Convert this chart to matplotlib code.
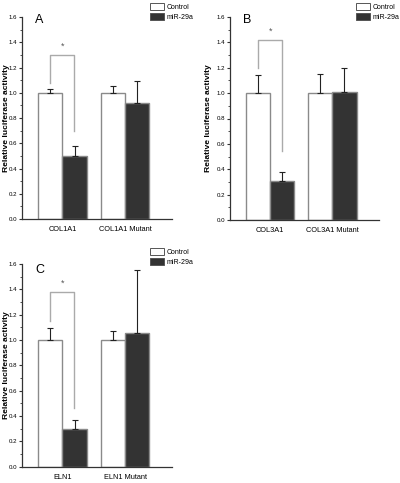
import matplotlib
matplotlib.use("Agg")
import matplotlib.pyplot as plt
from matplotlib.patches import Patch
from matplotlib.ticker import MultipleLocator

plt.rcParams['font.family'] = ['Liberation Sans', 'DejaVu Sans']

series = ["Control", "miR-29a"]
panel_letters = ["A", "B", "C"]
categories = [["COL1A1", "COL1A1 Mutant"],
              ["COL3A1", "COL3A1 Mutant"],
              ["ELN1", "ELN1 Mutant"]]
control_vals = [[1.0, 1.0], [1.0, 1.0], [1.0, 1.0]]
control_err = [[0.03, 0.055], [0.14, 0.15], [0.095, 0.07]]
mir_vals = [[0.50, 0.915], [0.31, 1.01], [0.295, 1.055]]
mir_err = [[0.08, 0.18], [0.07, 0.19], [0.07, 0.50]]
# bracket: left start, top, right end, star height
brackets = [[1.08, 1.30, 0.70, 1.37],
            [1.20, 1.42, 0.54, 1.49],
            [1.15, 1.38, 0.46, 1.45]]

fig = plt.figure(figsize=(4, 4.83), dpi=100)
axes_rects = [
    [22/400, 1-219/483, 150/400, 202/483],
    [230/400, 1-220/483, 149/400, 203/483],
    [22/400, 1-466.7/483, 150/400, 202.7/483],
]
ylabel_x = [-0.08, -0.12, -0.08]
legend_pos = [(149/400, 1-2/483), (355/400, 1-2/483), (149/400, 1-247/483)]
letter_pos = [(35/400, 1-20/483), (243/400, 1-20/483), (35/400, 1-270/483)]

w = 0.39
off = 0.195
edge = '#8a8a8a'
dark = '#333333'

for i in range(3):
    ax = fig.add_axes(axes_rects[i])
    xs = [0, 1]
    ax.bar([x - off for x in xs], control_vals[i], width=w, color='white',
           edgecolor=edge, linewidth=1.0, zorder=2)
    ax.bar([x + off for x in xs], mir_vals[i], width=w, color=dark,
           edgecolor=edge, linewidth=1.0, zorder=2)
    ax.errorbar([x - off for x in xs], control_vals[i],
                yerr=[[0, 0], control_err[i]], fmt='none', ecolor='#222222',
                elinewidth=0.8, capsize=2, capthick=0.8, zorder=3)
    ax.errorbar([x + off for x in xs], mir_vals[i],
                yerr=[[0, 0], mir_err[i]], fmt='none', ecolor='#222222',
                elinewidth=0.8, capsize=2, capthick=0.8, zorder=3)
    b = brackets[i]
    ax.plot([-0.19, -0.19, 0.19, 0.19], [b[0], b[1], b[1], b[2]],
            color='#aaaaaa', linewidth=1.0, zorder=1)
    ax.text(0, b[3], '*', ha='center', va='center', fontsize=6.5, color='#555555')

    ax.set_ylim(0, 1.6)
    ax.set_xlim(-0.645, 1.75)
    ax.yaxis.set_minor_locator(MultipleLocator(0.1))
    ax.set_yticks([0, 0.2, 0.4, 0.6, 0.8, 1.0, 1.2, 1.4, 1.6])
    ax.set_yticklabels(['0.0', '0.2', '0.4', '0.6', '0.8', '1.0', '1.2', '1.4', '1.6'])
    ax.set_xticks(xs)
    ax.set_xticklabels(categories[i], fontsize=5.3)
    ax.tick_params(axis='x', length=0, pad=5)
    ax.tick_params(axis='y', which='major', labelsize=4.4, length=2.5, width=0.8, pad=0.8, color='#333333')
    ax.tick_params(axis='y', which='minor', length=1.5, width=0.6, color='#333333')
    for s in ['top', 'right']:
        ax.spines[s].set_visible(False)
    for s in ['left', 'bottom']:
        ax.spines[s].set_color('#333333')
        ax.spines[s].set_linewidth(0.9)
    ax.set_ylabel('Relative luciferase activity', fontsize=6.1, fontweight='bold')
    ax.yaxis.set_label_coords(ylabel_x[i], 0.5)

    handles = [Patch(facecolor='white', edgecolor='#555555', linewidth=0.7),
               Patch(facecolor=dark, edgecolor='#555555', linewidth=0.7)]
    fig.legend(handles, series, loc='upper left', bbox_to_anchor=legend_pos[i],
               frameon=False, fontsize=5.0, handlelength=2.1, handleheight=1.35,
               handletextpad=0.3, labelspacing=0.25, borderpad=0.1, borderaxespad=0)
    fig.text(letter_pos[i][0], letter_pos[i][1], panel_letters[i], fontsize=9,
             ha='left', va='center')

fig.savefig('out.png', dpi=100)
